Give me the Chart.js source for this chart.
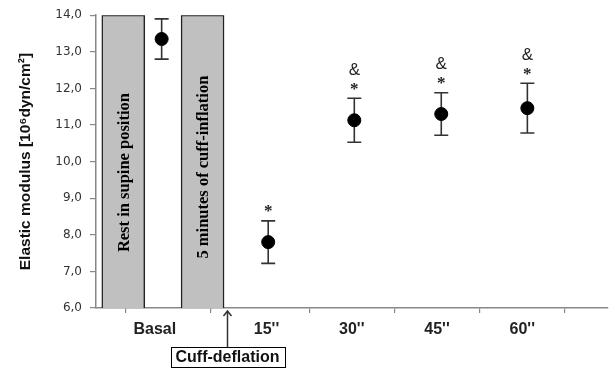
<!DOCTYPE html>
<html>
<head>
<meta charset="utf-8">
<script src="https://cdn.jsdelivr.net/npm/chart.js@4/dist/chart.umd.min.js"></script>
<style>
html,body{margin:0;padding:0;background:#fff;}
#wrap{width:615px;height:369px;position:relative;}
</style>
</head>
<body>
<div id="wrap"><canvas id="c" width="615" height="369"></canvas></div>
<script>
// ---- data ----
const categories = ["Basal", "15''", "30''", "45''", "60''"];
const tickX = [1.69, 3, 4, 5, 6];
const pointX = [1.77, 3.02, 4.03, 5.05, 6.06];
const means = [13.35, 7.8, 11.13, 11.3, 11.46];
const errors = [0.55, 0.58, 0.6, 0.58, 0.68];
const starMark = [false, true, true, true, true];
const ampMark = [false, false, true, true, true];
const phaseLabels = ['Rest in supine position', '5 minutes of cuff-inflation'];
const phaseX = [1.32, 2.25];
const phaseRange = [6, 14];
const deflationX = 2.535;
const deflationLabel = 'Cuff-deflation';
const yTitle = 'Elastic modulus [10\u2076dyn/cm\u00b2]';

const annot = {
  id: 'annot',
  beforeDatasetsDraw(chart) {
    const ctx = chart.ctx, xs = chart.scales.x, ys = chart.scales.y;
    ctx.save();
    ctx.strokeStyle = '#333';
    ctx.lineWidth = 1.6;
    means.forEach((m, i) => {
      const px = xs.getPixelForValue(pointX[i]);
      const t = ys.getPixelForValue(m + errors[i]);
      const b = ys.getPixelForValue(m - errors[i]);
      ctx.beginPath();
      ctx.moveTo(px, t); ctx.lineTo(px, b);
      ctx.moveTo(px - 7, t); ctx.lineTo(px + 7, t);
      ctx.moveTo(px - 7, b); ctx.lineTo(px + 7, b);
      ctx.stroke();
    });
    ctx.restore();
  },
  afterDatasetsDraw(chart) {
    const ctx = chart.ctx, xs = chart.scales.x, ys = chart.scales.y;
    ctx.save();
    ctx.textAlign = 'center';
    ctx.textBaseline = 'middle';
    means.forEach((m, i) => {
      const px = xs.getPixelForValue(pointX[i]);
      const t = ys.getPixelForValue(m + errors[i]);
      if (starMark[i]) {
        ctx.fillStyle = '#222';
        ctx.font = 'bold 17px "Liberation Serif"';
        ctx.fillText('*', px, t - 9);
      }
      if (ampMark[i]) {
        ctx.fillStyle = '#222';
        ctx.font = '17px "Liberation Sans"';
        ctx.fillText('&', px, t - 28);
      }
    });
    ctx.font = 'bold 16.5px "Liberation Serif"';
    ctx.fillStyle = '#000';
    const centers = [9.7, 9.85];
    phaseLabels.forEach((lab, i) => {
      const px = xs.getPixelForValue(phaseX[i]);
      const py = ys.getPixelForValue(centers[i]);
      ctx.save();
      ctx.translate(px + 1, py);
      ctx.rotate(-Math.PI / 2);
      ctx.fillText(lab, 0, 0);
      ctx.restore();
    });
    ctx.restore();
  },
  afterDraw(chart) {
    const ctx = chart.ctx, xs = chart.scales.x;
    const px = Math.round(xs.getPixelForValue(deflationX)) + 0.5;
    const axisY = chart.chartArea.bottom;
    ctx.save();
    ctx.font = 'bold 16px "Liberation Sans"';
    const w = ctx.measureText(deflationLabel).width + 10;
    const boxTop = 347, boxH = 20;
    ctx.strokeStyle = '#000';
    ctx.lineWidth = 1;
    ctx.strokeRect(Math.round(px - w / 2) + 0.5, boxTop + 0.5, Math.round(w), boxH);
    ctx.fillStyle = '#111';
    ctx.textAlign = 'center';
    ctx.textBaseline = 'middle';
    ctx.fillText(deflationLabel, px, boxTop + boxH / 2 + 1);
    ctx.strokeStyle = '#333';
    ctx.lineWidth = 1.5;
    ctx.beginPath();
    ctx.moveTo(px, boxTop);
    ctx.lineTo(px, axisY + 3);
    ctx.moveTo(px - 4, axisY + 8);
    ctx.lineTo(px, axisY + 3);
    ctx.lineTo(px + 4, axisY + 8);
    ctx.stroke();
    ctx.restore();
  }
};

new Chart(document.getElementById('c'), {
  type: 'bar',
  data: {
    datasets: [
      {
        type: 'bar',
        data: phaseX.map(x => ({ x: x, y: phaseRange })),
        backgroundColor: '#c0c0c0',
        borderColor: '#222',
        borderWidth: { left: 1.5, right: 1.5, top: 1.5, bottom: 0 },
        borderSkipped: false,
        barThickness: 43,
        grouped: false,
        order: 2
      },
      {
        type: 'scatter',
        data: means.map((m, i) => ({ x: pointX[i], y: m })),
        backgroundColor: '#000',
        borderColor: '#000',
        pointRadius: 6.5,
        pointHoverRadius: 6.5,
        order: 1
      }
    ]
  },
  options: {
    responsive: false,
    animation: false,
    events: [],
    layout: { padding: { top: 15, right: 3, left: 0, bottom: 0 } },
    plugins: { legend: { display: false }, tooltip: { enabled: false } },
    scales: {
      x: {
        type: 'linear',
        min: 1,
        max: 7,
        offset: false,
        afterBuildTicks(scale) {
          scale.ticks = [1].concat(tickX, [7]).map(v => ({ value: v }));
        },
        afterFit(scale) { scale.height = 61; },
        grid: { drawOnChartArea: false, drawTicks: true, tickLength: 5, color: '#888', lineWidth: 1.2 },
        border: { color: '#888', width: 1.5 },
        ticks: {
          autoSkip: false,
          maxRotation: 0,
          padding: 7,
          color: '#222',
          font: { family: '"Liberation Sans"', size: 16, weight: 'bold' },
          callback(value) {
            const k = tickX.indexOf(value);
            return k >= 0 ? categories[k] : '';
          }
        }
      },
      y: {
        min: 6,
        max: 14,
        afterFit(scale) { scale.width = 96; },
        grid: { drawOnChartArea: false, drawTicks: true, tickLength: 6, color: '#888', lineWidth: 1.2 },
        border: { color: '#888', width: 1.5 },
        ticks: {
          stepSize: 1,
          padding: 8,
          color: '#333',
          font: { family: '"DejaVu Sans"', size: 12 },
          callback(v) { return v.toFixed(1).replace('.', ','); }
        },
        title: {
          display: true,
          text: yTitle,
          color: '#111',
          font: { family: '"Liberation Sans"', size: 15.5, weight: 'bold' },
          padding: { top: 16, bottom: 0 }
        }
      }
    }
  },
  plugins: [annot]
});
</script>
</body>
</html>
